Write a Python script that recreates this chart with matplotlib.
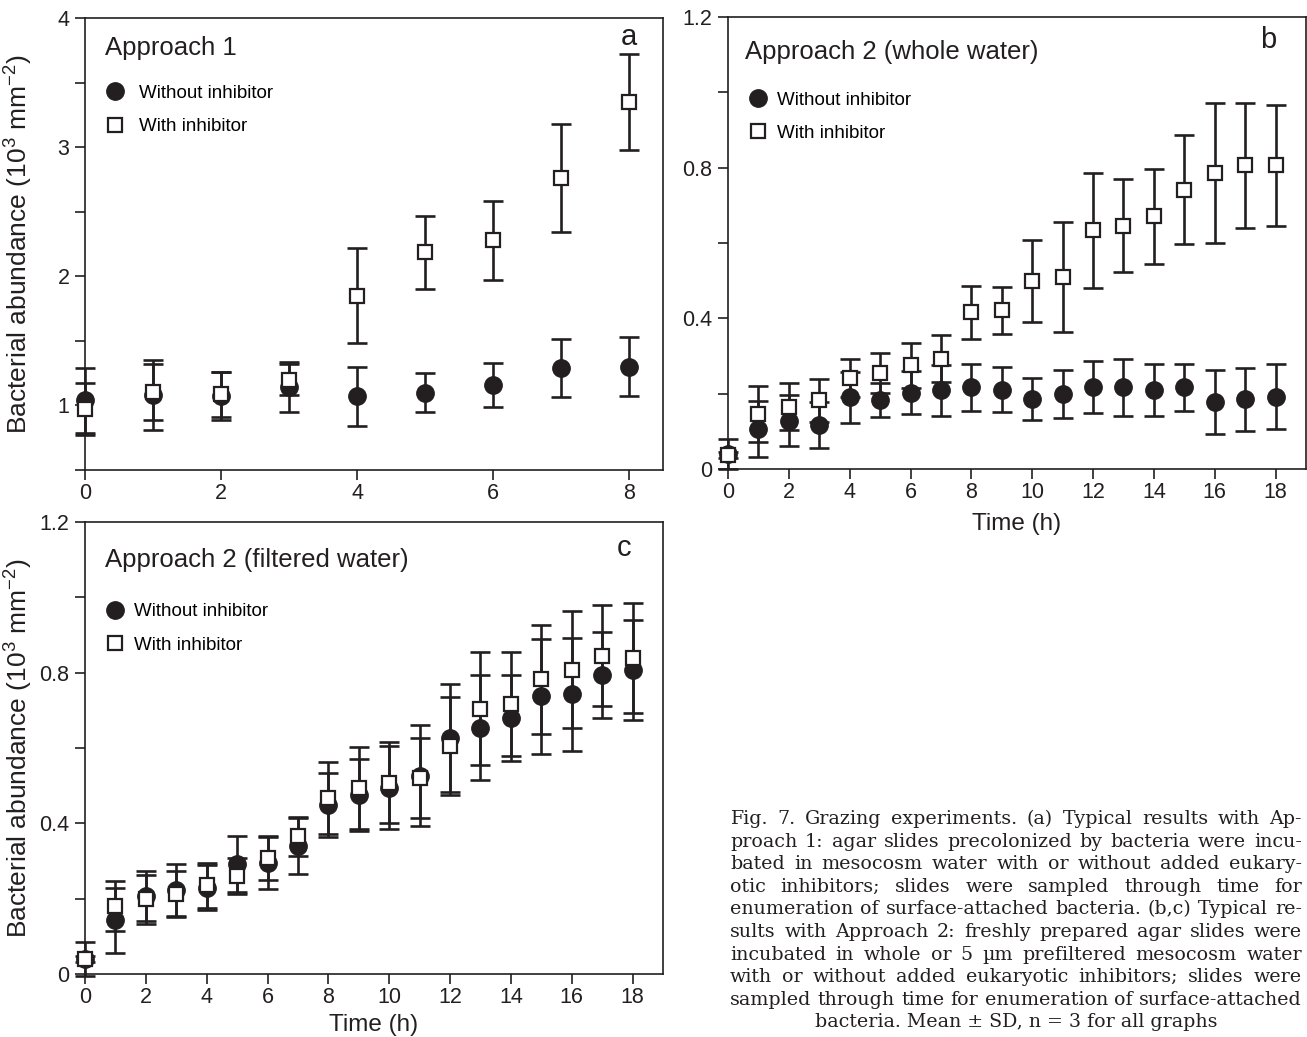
import matplotlib
matplotlib.use("Agg")
import matplotlib.pyplot as plt
from matplotlib.lines import Line2D

plt.rcParams['font.family'] = ['Liberation Sans', 'DejaVu Sans']
plt.rcParams['mathtext.fontset'] = 'custom'
plt.rcParams['mathtext.rm'] = 'Liberation Sans'
plt.rcParams['mathtext.it'] = 'Liberation Sans:italic'

INK = '#231f20'

# panel a - Approach 1
time_a = [0, 1, 2, 3, 4, 5, 6, 7, 8]
without_a = [1.04, 1.08, 1.075, 1.145, 1.07, 1.10, 1.16, 1.29, 1.30]
without_a_sd = [0.25, 0.27, 0.185, 0.195, 0.23, 0.15, 0.17, 0.225, 0.23]
with_a = [0.97, 1.105, 1.085, 1.2, 1.85, 2.185, 2.28, 2.76, 3.35]
with_a_sd = [0.2, 0.215, 0.175, 0.12, 0.37, 0.285, 0.305, 0.42, 0.37]

# panel b - Approach 2 (whole water)
time_b = list(range(19))
without_b = [0.04, 0.106, 0.128, 0.117, 0.19, 0.183, 0.203, 0.209, 0.217, 0.211,
             0.185, 0.199, 0.217, 0.217, 0.211, 0.217, 0.179, 0.185, 0.192]
without_b_sd = [0.04, 0.074, 0.068, 0.06, 0.067, 0.046, 0.058, 0.067, 0.062, 0.06,
                0.056, 0.064, 0.069, 0.075, 0.069, 0.062, 0.085, 0.083, 0.087]
with_b = [0.037, 0.146, 0.165, 0.183, 0.242, 0.255, 0.275, 0.293, 0.416, 0.421,
          0.499, 0.511, 0.634, 0.646, 0.671, 0.742, 0.786, 0.806, 0.806]
with_b_sd = [0.008, 0.075, 0.062, 0.057, 0.05, 0.052, 0.06, 0.063, 0.07, 0.062,
             0.108, 0.146, 0.153, 0.124, 0.126, 0.145, 0.187, 0.166, 0.16]

# panel c - Approach 2 (filtered water)
time_c = list(range(19))
without_c = [0.039, 0.143, 0.207, 0.224, 0.229, 0.292, 0.296, 0.34, 0.448, 0.475,
             0.494, 0.526, 0.627, 0.654, 0.679, 0.737, 0.743, 0.793, 0.807]
without_c_sd = [0.045, 0.086, 0.067, 0.069, 0.06, 0.074, 0.07, 0.074, 0.085, 0.096,
                0.11, 0.134, 0.143, 0.14, 0.114, 0.152, 0.15, 0.114, 0.133]
with_c = [0.039, 0.18, 0.198, 0.212, 0.235, 0.26, 0.307, 0.366, 0.467, 0.494,
          0.508, 0.52, 0.605, 0.704, 0.717, 0.782, 0.808, 0.845, 0.838]
with_c_sd = [0.008, 0.066, 0.064, 0.061, 0.06, 0.047, 0.058, 0.052, 0.096, 0.109,
             0.108, 0.106, 0.131, 0.15, 0.137, 0.145, 0.155, 0.134, 0.146]

caption_lines = [
    "Fig. 7. Grazing experiments. (a) Typical results with Ap-",
    "proach 1: agar slides precolonized by bacteria were incu-",
    "bated in mesocosm water with or without added eukary-",
    "otic inhibitors; slides were sampled through time for",
    "enumeration of surface-attached bacteria. (b,c) Typical re-",
    "sults with Approach 2: freshly prepared agar slides were",
    "incubated in whole or 5 µm prefiltered mesocosm water",
    "with or without added eukaryotic inhibitors; slides were",
    "sampled through time for enumeration of surface-attached",
    "bacteria. Mean ± SD, n = 3 for all graphs",
]

W, H = 1307, 1037
fig = plt.figure(figsize=(W / 100, H / 100), dpi=100)


def px_axes(left, top, right, bottom):
    return fig.add_axes([left / W, 1 - bottom / H, (right - left) / W, (bottom - top) / H])


def draw_panel(ax, t, y0, e0, y1, e1):
    kw = dict(fmt='none', ecolor=INK, elinewidth=1.9, capsize=7.5, capthick=1.9, clip_on=False)
    ax.errorbar(t, y0, yerr=e0, zorder=2, **kw)
    ax.plot(t, y0, 'o', ms=12.5, mfc=INK, mec=INK, mew=1, zorder=3, clip_on=False)
    ax.errorbar(t, y1, yerr=e1, zorder=4, **kw)
    ax.plot(t, y1, 's', ms=10.5, mfc='white', mec=INK, mew=1.6, zorder=5, clip_on=False)
    for s in ax.spines.values():
        s.set_color(INK)
        s.set_linewidth(1.2)
    ax.tick_params(direction='out', length=7.2, width=1.2, colors=INK, labelsize=15.5,
                   top=False, right=False)
    ax.tick_params(axis='y', which='both', pad=4)
    ax.tick_params(axis='x', pad=2.5)
    ax.tick_params(which='minor', direction='out', length=7.2, width=1.2, colors=INK)


def add_legend(ax, x, y, pad):
    handles = [Line2D([], [], ls='none', marker='o', ms=12.5, mfc=INK, mec=INK),
               Line2D([], [], ls='none', marker='s', ms=10, mfc='white', mec=INK, mew=1.6)]
    ax.legend(handles, ['Without inhibitor', 'With inhibitor'], loc='upper left',
              bbox_to_anchor=(x, y), frameon=False, fontsize=13.5, handlelength=1.0,
              handletextpad=pad, labelspacing=0.85, borderpad=0, borderaxespad=0)


def ylab(ax):
    ax.set_ylabel(r'Bacterial abundance (10$^{3}$ mm$^{-2}$)', fontsize=19, color=INK)
    ax.yaxis.set_label_coords(-0.086, 0.5)


def xlab(ax, ypos):
    ax.set_xlabel('Time (h)', fontsize=17.5, color=INK)
    ax.xaxis.set_label_coords(0.5, ypos)
    ax.xaxis.label.set_va('top')


# a
ax_a = px_axes(85, 18, 663, 470)
draw_panel(ax_a, time_a, without_a, without_a_sd, with_a, with_a_sd)
ax_a.set_xlim(0, 8.5)
ax_a.set_ylim(0.5, 4)
ax_a.set_xticks([0, 2, 4, 6, 8])
ax_a.set_yticks([1, 2, 3, 4])
ax_a.set_yticks([0.5, 1.5, 2.5, 3.5], minor=True)
ylab(ax_a)
ax_a.text(0.035, 0.934, 'Approach 1', transform=ax_a.transAxes, fontsize=18.5, va='center', color=INK)
ax_a.text(0.941, 0.958, 'a', transform=ax_a.transAxes, fontsize=21, ha='center', va='center', color=INK)
add_legend(ax_a, 0.035, 0.852, 0.8)

# b
ax_b = px_axes(728, 17, 1306, 469)
draw_panel(ax_b, time_b, without_b, without_b_sd, with_b, with_b_sd)
ax_b.set_xlim(0, 19)
ax_b.set_ylim(0, 1.2)
ax_b.set_xticks(range(0, 19, 2))
ax_b.set_yticks([0, 0.4, 0.8, 1.2])
ax_b.set_yticklabels(['0', '0.4', '0.8', '1.2'])
ax_b.set_yticks([0.2, 0.6, 1.0], minor=True)
xlab(ax_b, -0.098)
ax_b.text(0.029, 0.923, 'Approach 2 (whole water)', transform=ax_b.transAxes, fontsize=18.5, va='center', color=INK)
ax_b.text(0.934, 0.949, 'b', transform=ax_b.transAxes, fontsize=21, ha='center', va='center', color=INK)
add_legend(ax_b, 0.035, 0.835, 0.55)

# c
ax_c = px_axes(85, 522, 663, 974)
draw_panel(ax_c, time_c, without_c, without_c_sd, with_c, with_c_sd)
ax_c.set_xlim(0, 19)
ax_c.set_ylim(0, 1.2)
ax_c.set_xticks(range(0, 19, 2))
ax_c.set_yticks([0, 0.4, 0.8, 1.2])
ax_c.set_yticklabels(['0', '0.4', '0.8', '1.2'])
ax_c.set_yticks([0.2, 0.6, 1.0], minor=True)
xlab(ax_c, -0.088)
ylab(ax_c)
ax_c.text(0.035, 0.916, 'Approach 2 (filtered water)', transform=ax_c.transAxes, fontsize=18.5, va='center', color=INK)
ax_c.text(0.9325, 0.942, 'c', transform=ax_c.transAxes, fontsize=21, ha='center', va='center', color=INK)
add_legend(ax_c, 0.035, 0.820, 0.55)

# caption, justified line by line
serif = ['DejaVu Serif']
cap_left, cap_right = 730, 1302
r = fig.canvas.get_renderer()


def text_width(s, fs):
    t = fig.text(0, 0, s, fontsize=fs, family=serif)
    w = t.get_window_extent(renderer=r).width
    t.remove()
    return w


cap_fs = 10 * (cap_right - cap_left) / text_width(caption_lines[8], 10)
for i, line in enumerate(caption_lines):
    yb = 1 - (818 + 22.6 * i + 6) / H
    if i == len(caption_lines) - 1:
        fig.text((cap_left + cap_right) / 2 / W, yb, line, fontsize=cap_fs, family=serif,
                 ha='center', va='baseline', color=INK)
        continue
    words = line.split(' ')
    widths = [text_width(w, cap_fs) for w in words]
    gap = (cap_right - cap_left - sum(widths)) / (len(words) - 1)
    x = cap_left
    for w, wd in zip(words, widths):
        fig.text(x / W, yb, w, fontsize=cap_fs, family=serif, va='baseline', color=INK)
        x += wd + gap

fig.savefig('out.png', dpi=100)
